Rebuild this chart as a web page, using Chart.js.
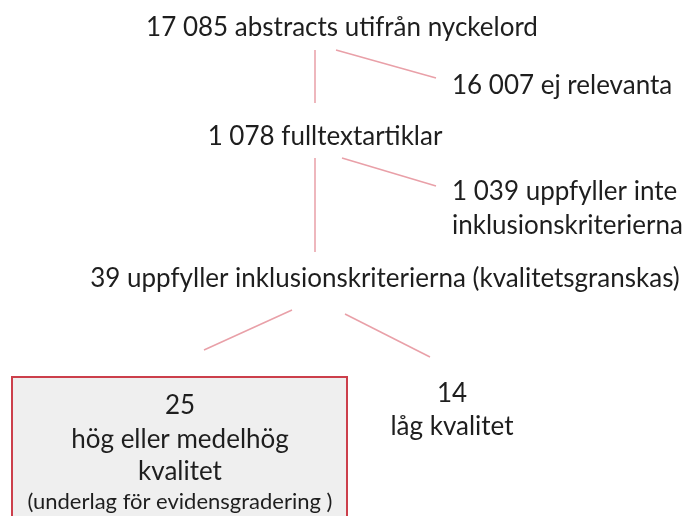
<!DOCTYPE html>
<html>
<head>
<meta charset="utf-8">
<script src="https://cdn.jsdelivr.net/npm/chart.js@4"></script>
<style>
  body { margin: 0; background: #fff; }
  #wrap { width: 695px; height: 516px; }
</style>
</head>
<body>
<div id="wrap"><canvas id="flow"></canvas></div>
<script>
// flödesschema: texter och kopplingar (koordinater i diagrammets egna enheter)
const nodeText = [
  '17 085 abstracts utifrån nyckelord',
  '16 007 ej relevanta',
  '1 078 fulltextartiklar',
  '1 039 uppfyller inte',
  'inklusionskriterierna',
  '39 uppfyller inklusionskriterierna (kvalitetsgranskas)',
  '25',
  'hög eller medelhög',
  'kvalitet',
  '(underlag för evidensgradering )',
  '14',
  'låg kvalitet'
];
const nodeX = [342, 452, 325, 452, 452, 385, 180, 180, 180, 180, 452, 452];
const nodeY = [28, 86, 137, 192, 226, 279, 406, 440, 472, 502, 394, 427];
const nodeAlign = ['center', 'left', 'center', 'left', 'left', 'center', 'center', 'center', 'center', 'center', 'center', 'center'];
const nodeSmall = [false, false, false, false, false, false, false, false, false, true, false, false];

// kopplingslinjer [x1, y1, x2, y2]
const links = [
  [315, 50, 315, 103],
  [336, 50, 436, 78],
  [315, 158, 315, 252],
  [342, 158, 436, 186],
  [292, 310, 204, 350],
  [345, 314, 430, 357]
];

// markerad ruta [x1, y1, x2, y2]
const boxCorners = [12, 377, 347, 530];

const lineColor = '#e9a0a8';

const flowPlugin = {
  id: 'flow',
  beforeDatasetsDraw(chart) {
    const { ctx, scales: { x, y } } = chart;
    const x1 = x.getPixelForValue(boxCorners[0]);
    const y1 = y.getPixelForValue(boxCorners[1]);
    const x2 = x.getPixelForValue(boxCorners[2]);
    const y2 = y.getPixelForValue(boxCorners[3]);
    ctx.save();
    ctx.fillStyle = '#efefef';
    ctx.fillRect(x1, y1, x2 - x1, y2 - y1);
    ctx.strokeStyle = '#cc3f4b';
    ctx.lineWidth = 2;
    ctx.strokeRect(x1, y1, x2 - x1, y2 - y1);
    ctx.restore();
  },
  afterDatasetsDraw(chart) {
    const { ctx, scales: { x, y } } = chart;
    ctx.save();
    ctx.fillStyle = '#1e1e1e';
    ctx.textBaseline = 'middle';
    for (let i = 0; i < nodeText.length; i++) {
      ctx.font = (nodeSmall[i] ? '22px' : '26px') + ' Lato';
      ctx.textAlign = nodeAlign[i];
      ctx.fillText(nodeText[i], x.getPixelForValue(nodeX[i]), y.getPixelForValue(nodeY[i]));
    }
    ctx.restore();
  }
};

const datasets = links.map(l => ({
  type: 'line',
  data: [{ x: l[0], y: l[1] }, { x: l[2], y: l[3] }],
  borderColor: lineColor,
  borderWidth: 1.5,
  pointRadius: 0,
  fill: false
}));

new Chart(document.getElementById('flow'), {
  type: 'scatter',
  data: { datasets: datasets },
  options: {
    responsive: true,
    maintainAspectRatio: false,
    animation: false,
    layout: { padding: 0 },
    plugins: { legend: { display: false }, tooltip: { enabled: false } },
    scales: {
      x: { type: 'linear', min: 0, max: 695, display: false },
      y: { type: 'linear', min: 0, max: 516, reverse: true, display: false }
    }
  },
  plugins: [flowPlugin]
});
</script>
</body>
</html>
